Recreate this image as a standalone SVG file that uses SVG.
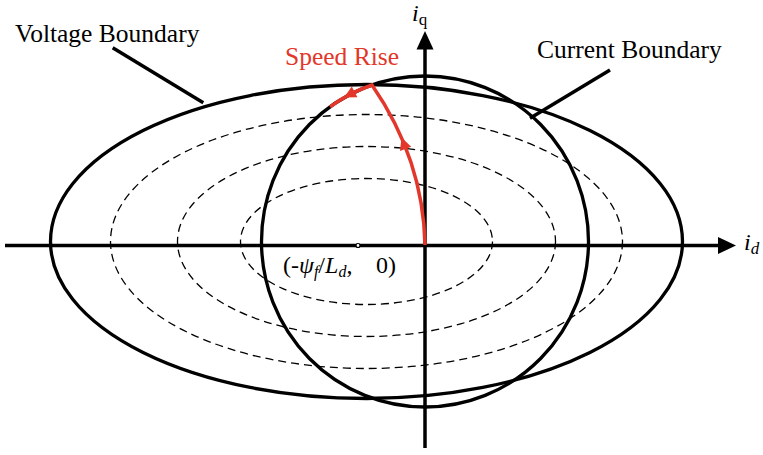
<svg xmlns="http://www.w3.org/2000/svg" width="763" height="455" viewBox="0 0 763 455">
<style>
.dash{fill:none;stroke:#000;stroke-width:1.3;stroke-dasharray:8 5}
.bound{fill:none;stroke:#000;stroke-width:3.3}
.axis{fill:none;stroke:#000;stroke-width:3.5}
.lead{fill:none;stroke:#000;stroke-width:3.5}
.red{fill:none;stroke:#e2372a;stroke-width:3.5}
.lbl{font-family:"Liberation Serif","Times New Roman",serif;font-size:24px;fill:#000}
.big{font-size:25.5px}
.it{font-style:italic}
</style>
<defs>
<path id="ah" d="M0,0 L-12,-6 L-12,6 Z"/>
</defs>
<rect width="763" height="455" fill="#fff"/>
<g id="loci">
<ellipse class="dash" cx="366.5" cy="241.5" rx="256" ry="127"/>
<ellipse class="dash" cx="366.5" cy="241.5" rx="189" ry="95"/>
<ellipse class="dash" cx="366.5" cy="241.5" rx="126" ry="63"/>
</g>
<g id="voltage-boundary">
<ellipse class="bound" cx="366.5" cy="241.5" rx="316" ry="157"/>
</g>
<g id="current-boundary">
<ellipse class="bound" cx="425" cy="241.5" rx="163.5" ry="165.5"/>
</g>
<g id="axes">
<line class="axis" x1="5" y1="245.5" x2="720" y2="245.5"/>
<path d="M736,245.5 L718,237 L718,254 Z" fill="#000"/>
<line class="axis" x1="425" y1="448" x2="425" y2="47"/>
<path d="M425,31 L416.5,49.5 L433.5,49.5 Z" fill="#000"/>
<text class="lbl" x="744" y="250"><tspan class="it">i</tspan><tspan class="it" font-size="17" dy="4">d</tspan></text>
<text class="lbl" x="412" y="21"><tspan class="it">i</tspan><tspan font-size="17" dy="4">q</tspan></text>
</g>
<g id="center-point">
<circle cx="358" cy="245.5" r="2" fill="#fff" stroke="#000" stroke-width="1.2"/>
<text class="lbl" x="283" y="273">(-<tspan class="it">ψ</tspan><tspan class="it" font-size="16" dy="4">f</tspan><tspan dy="-4">/</tspan><tspan class="it">L</tspan><tspan class="it" font-size="16" dy="4">d</tspan><tspan dy="-4">,</tspan><tspan x="376">0)</tspan></text>
</g>
<g id="connectors">
<line class="lead" x1="112.7" y1="47.7" x2="203.3" y2="102.7"/>
<line class="lead" x1="610" y1="70" x2="530" y2="118.3"/>
</g>
<g id="speed-rise">
<path class="red" d="M425,245 C424,195 410,140 372,85 A163.5 165.5 0 0 0 330,106.8"/>
<use href="#ah" fill="#e2372a" transform="translate(344,97.5) rotate(152)"/>
<use href="#ah" fill="#e2372a" transform="translate(401.5,137.6) rotate(-110)"/>
<text class="lbl big" x="285" y="65" style="fill:#e2372a">Speed Rise</text>
</g>
<g id="labels">
<text class="lbl big" x="15" y="42">Voltage Boundary</text>
<text class="lbl big" x="537" y="58">Current Boundary</text>
</g>
</svg>
